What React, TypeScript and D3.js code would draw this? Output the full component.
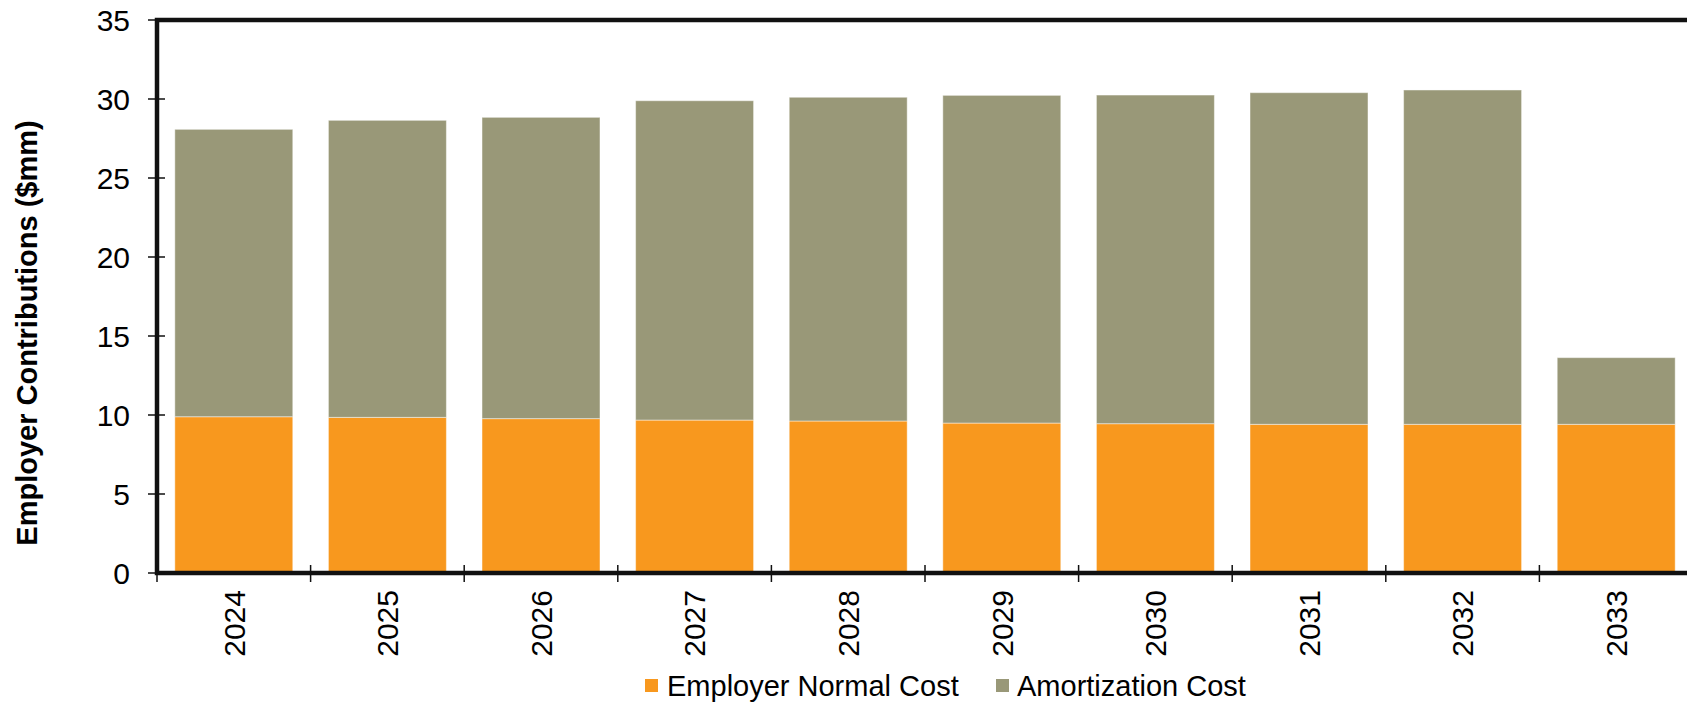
import React from "react";
import * as d3 from "d3";

const years = ["2024", "2025", "2026", "2027", "2028", "2029", "2030", "2031", "2032", "2033"];
const normalCost = [9.89, 9.85, 9.77, 9.68, 9.62, 9.49, 9.45, 9.41, 9.41, 9.41];
const totalCost = [28.08, 28.65, 28.84, 29.89, 30.11, 30.23, 30.25, 30.4, 30.57, 13.63];
const amortCost = totalCost.map((t, i) => +(t - normalCost[i]).toFixed(2));
const yTicks = [0, 5, 10, 15, 20, 25, 30, 35];
const seriesNames = ["Employer Normal Cost", "Amortization Cost"];
const colors = ["#F8981E", "#999878"];

const W = 1687;
const H = 704;
const left = 157;
const right = 1693;
const top = 20;
const bottom = 573;

export default function App() {
  const x = d3.scaleBand<string>().domain(years).range([left, right]).paddingInner(0.232).paddingOuter(0.116);
  const y = d3.scaleLinear().domain([0, 35]).range([bottom, top]);
  const step = x.step();
  const boundaries = d3.range(years.length + 1).map((i) => left + i * step);

  const stacks = d3.stack<any>().keys(["n", "a"])(years.map((yr, i) => ({ yr, n: normalCost[i], a: amortCost[i] })));

  const font = "Arial, 'Liberation Sans', Helvetica, sans-serif";

  return (
    <svg width={W} height={H} style={{ position: "absolute", left: 0, top: 0, background: "#fff" }} fontFamily={font}>
      {stacks.map((s, si) => (
        <g key={si} fill={colors[si]}>
          {s.map((d: any, i: number) => (
            <rect
              key={i}
              x={x(years[i])}
              width={x.bandwidth()}
              y={y(d[1])}
              height={y(d[0]) - y(d[1])}
              stroke="rgba(255,255,255,0.45)"
              strokeWidth={1}
            />
          ))}
        </g>
      ))}
      {/* plot frame */}
      <rect x={left} y={top} width={right - left} height={bottom - top} fill="none" stroke="#111" strokeWidth={4.5} />
      {/* y ticks */}
      {yTicks.map((t) => (
        <g key={t}>
          <line x1={148} x2={165} y1={y(t)} y2={y(t)} stroke="#111" strokeWidth={1.5} />
          <text x={130} y={y(t)} dy="0.36em" textAnchor="end" fontSize={30} fill="#000">
            {t}
          </text>
        </g>
      ))}
      {/* x ticks */}
      {boundaries.map((b, i) => (
        <line key={i} x1={b} x2={b} y1={565} y2={582} stroke="#111" strokeWidth={1.5} />
      ))}
      {years.map((yr) => {
        const cx = (x(yr) as number) + x.bandwidth() / 2;
        return (
          <text
            key={yr}
            transform={`translate(${cx},590) rotate(-90)`}
            textAnchor="end"
            dy="0.36em"
            fontSize={30}
            fill="#000"
          >
            {yr}
          </text>
        );
      })}
      {/* y axis title */}
      <text transform="translate(37,333) rotate(-90)" textAnchor="middle" fontSize={29} fontWeight="bold" fill="#000">
        Employer Contributions ($mm)
      </text>
      {/* legend */}
      <g>
        <rect x={645} y={679} width={13} height={13} fill={colors[0]} />
        <text x={667} y={696} fontSize={29} fill="#000">
          {seriesNames[0]}
        </text>
        <rect x={996} y={679} width={13} height={13} fill={colors[1]} />
        <text x={1017} y={696} fontSize={29} fill="#000">
          {seriesNames[1]}
        </text>
      </g>
    </svg>
  );
}
